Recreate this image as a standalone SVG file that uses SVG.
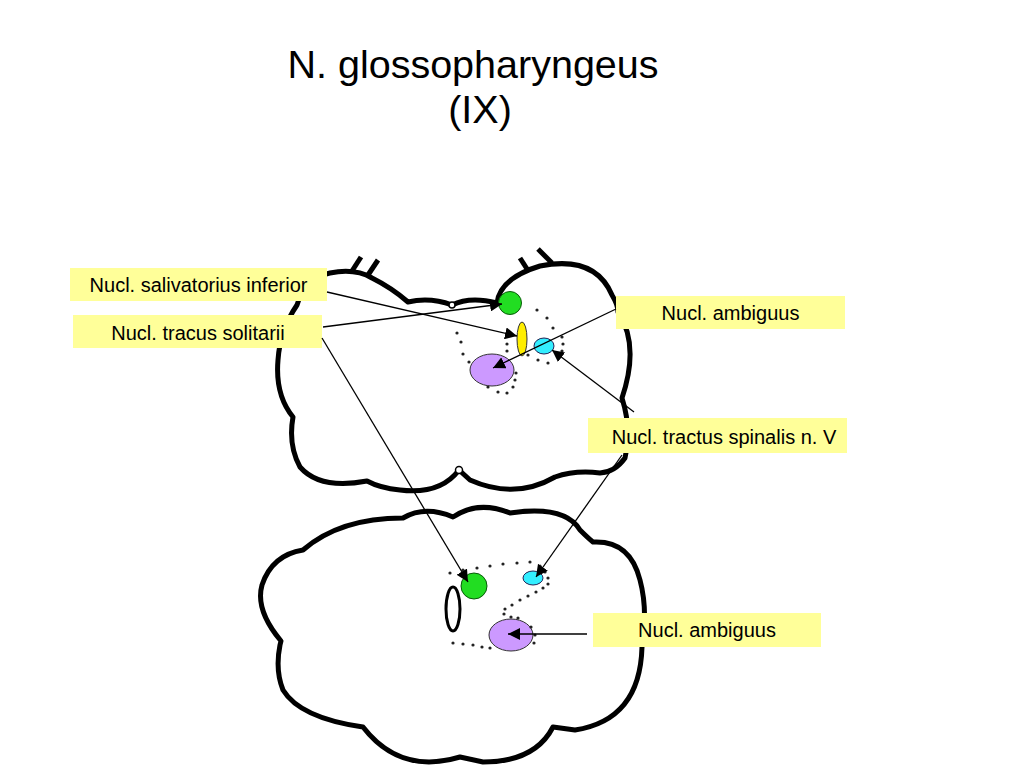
<svg xmlns="http://www.w3.org/2000/svg" width="1024" height="768" viewBox="0 0 1024 768">
<defs>
<style>
.outline{fill:#fff;stroke:#000;stroke-width:5;stroke-linejoin:round;stroke-linecap:round}
.tick{fill:none;stroke:#000;stroke-width:5;stroke-linecap:butt}
.conn{fill:none;stroke:#000;stroke-width:1.3}
.lbl{fill:#ffff99;stroke:none}
.lt{font-family:"Liberation Sans",Arial,sans-serif;font-size:20px;fill:#000;text-anchor:middle}
.title{font-family:"Liberation Sans",Arial,sans-serif;font-size:39.5px;fill:#000;text-anchor:middle}
.dot{fill:#222}
.hole{fill:#fff;stroke:#000;stroke-width:1.5}
</style>
<marker id="ah" markerUnits="userSpaceOnUse" markerWidth="14" markerHeight="12" refX="12" refY="6" orient="auto">
<path d="M0,0 L12,6 L0,12 Z" fill="#000"/>
</marker>
</defs>
<rect width="1024" height="768" fill="#fff"/>

<g id="title">
<text class="title" x="473" y="78">N. glossopharyngeus</text>
<text class="title" x="480" y="123">(IX)</text>
</g>

<g id="upper-section">
<path class="outline" d="M297,305 Q305,278 330,273 Q355,268 372,278 Q392,288 408,302 Q430,297 452,305 Q470,296 497,303 Q500,278 540,266 Q595,255 612,295 Q618,305 618,312 Q640,345 622,398 Q632,430 625,458 Q615,472 600,473 Q575,470 555,477 Q515,500 470,480 L459,470 Q440,495 400,490 Q380,488 367,481 Q320,490 300,467 Q288,445 293,417 Q275,395 278,360 Q280,330 297,305 Z"/>
<line class="tick" x1="361" y1="257" x2="352" y2="271"/>
<line class="tick" x1="378" y1="260" x2="368" y2="275"/>
<line class="tick" x1="520" y1="258" x2="529" y2="272"/>
<line class="tick" x1="538" y1="249" x2="552" y2="263"/>
<circle class="hole" cx="452" cy="305" r="3"/>
<circle class="hole" cx="459" cy="470" r="3.5"/>
</g>

<g id="lower-section">
<path class="outline" d="M303,550 Q340,518 403,518 Q425,505 453,517 Q478,500 510,513 Q565,505 580,530 Q588,538 593,542 Q630,540 640,580 Q648,610 642,647 Q640,720 575,730 L553,727 Q535,762 483,762 L460,757 Q400,775 363,727 Q300,718 283,690 Q275,670 280,645 L281,641 Q255,610 262,585 Q272,555 303,550 Z"/>
</g>

<g id="upper-nuclei">
<circle id="u-green" cx="510" cy="303" r="11.5" fill="#22dd22" stroke="#0a5a0a" stroke-width="1"/>
<ellipse id="u-yellow" cx="522" cy="339" rx="5" ry="17" fill="#ffee00" stroke="#333" stroke-width="1"/>
<ellipse id="u-cyan" cx="544" cy="346" rx="10" ry="8" fill="#33eeff" stroke="#225" stroke-width="1"/>
<ellipse id="u-purple" cx="492" cy="370" rx="22" ry="16" fill="#cc99ff" stroke="#333" stroke-width="1"/>
</g>

<g id="upper-dots">
<circle class="dot" cx="537" cy="310" r="1.6"/><circle class="dot" cx="547" cy="318" r="1.6"/>
<circle class="dot" cx="553" cy="328" r="1.6"/><circle class="dot" cx="562" cy="337" r="1.6"/>
<circle class="dot" cx="563" cy="344" r="1.6"/><circle class="dot" cx="562" cy="351" r="1.6"/>
<circle class="dot" cx="558" cy="356" r="1.6"/><circle class="dot" cx="548" cy="363" r="1.6"/>
<circle class="dot" cx="538" cy="360" r="1.6"/><circle class="dot" cx="457" cy="333" r="1.6"/>
<circle class="dot" cx="461" cy="342" r="1.6"/><circle class="dot" cx="463" cy="354" r="1.6"/>
<circle class="dot" cx="469" cy="362" r="1.6"/><circle class="dot" cx="507" cy="344" r="1.6"/>
<circle class="dot" cx="507" cy="351" r="1.6"/><circle class="dot" cx="528" cy="355" r="1.6"/>
<circle class="dot" cx="516" cy="373" r="1.6"/><circle class="dot" cx="515" cy="380" r="1.6"/>
<circle class="dot" cx="513" cy="387" r="1.6"/><circle class="dot" cx="507" cy="393" r="1.6"/>
<circle class="dot" cx="498" cy="392" r="1.6"/><circle class="dot" cx="488" cy="387" r="1.6"/>
</g>

<g id="lower-nuclei">
<circle id="l-green" cx="474" cy="586" r="13" fill="#22dd22" stroke="#0a5a0a" stroke-width="1"/>
<ellipse id="l-cyan" cx="533" cy="578" rx="10" ry="7" fill="#33eeff" stroke="#225" stroke-width="1"/>
<ellipse id="l-open" cx="453" cy="609" rx="7" ry="22" fill="#fff" stroke="#000" stroke-width="3"/>
<ellipse id="l-purple" cx="511" cy="635" rx="22" ry="16" fill="#cc99ff" stroke="#333" stroke-width="1"/>
</g>

<g id="lower-dots">
<circle class="dot" cx="450" cy="573" r="1.6"/><circle class="dot" cx="463" cy="570" r="1.6"/>
<circle class="dot" cx="477" cy="568" r="1.6"/><circle class="dot" cx="490" cy="566" r="1.6"/>
<circle class="dot" cx="503" cy="564" r="1.6"/><circle class="dot" cx="517" cy="563" r="1.6"/>
<circle class="dot" cx="530" cy="562" r="1.6"/><circle class="dot" cx="540" cy="566" r="1.6"/>
<circle class="dot" cx="545" cy="572" r="1.6"/><circle class="dot" cx="548" cy="578" r="1.6"/>
<circle class="dot" cx="548" cy="584" r="1.6"/><circle class="dot" cx="543" cy="588" r="1.6"/>
<circle class="dot" cx="536" cy="592" r="1.6"/><circle class="dot" cx="528" cy="596" r="1.6"/>
<circle class="dot" cx="520" cy="600" r="1.6"/><circle class="dot" cx="512" cy="605" r="1.6"/>
<circle class="dot" cx="505" cy="609" r="1.6"/><circle class="dot" cx="504" cy="614" r="1.6"/>
<circle class="dot" cx="511" cy="617" r="1.6"/><circle class="dot" cx="518" cy="618" r="1.6"/>
<circle class="dot" cx="531" cy="627" r="1.6"/><circle class="dot" cx="535" cy="635" r="1.6"/>
<circle class="dot" cx="534" cy="643" r="1.6"/><circle class="dot" cx="453" cy="643" r="1.6"/>
<circle class="dot" cx="463" cy="644" r="1.6"/><circle class="dot" cx="473" cy="645" r="1.6"/>
<circle class="dot" cx="482" cy="647" r="1.6"/><circle class="dot" cx="490" cy="648" r="1.6"/>
</g>

<g id="label-salivatorius">
<rect class="lbl" x="70" y="268" width="257" height="33"/>
<text class="lt" x="198.5" y="292">Nucl. salivatorius inferior</text>
</g>
<g id="label-solitarii">
<rect class="lbl" x="73" y="315" width="249" height="33"/>
<text class="lt" x="198" y="340">Nucl. tracus solitarii</text>
</g>
<g id="label-ambiguus-top">
<rect class="lbl" x="616" y="296" width="229" height="33"/>
<text class="lt" x="730.5" y="320">Nucl. ambiguus</text>
</g>
<g id="label-spinalis">
<rect class="lbl" x="588" y="418" width="259" height="35"/>
<text class="lt" x="724" y="444">Nucl. tractus spinalis n. V</text>
</g>
<g id="label-ambiguus-bottom">
<rect class="lbl" x="593" y="613" width="228" height="34"/>
<text class="lt" x="707" y="637">Nucl. ambiguus</text>
</g>

<g id="connectors">
<line class="conn" x1="327" y1="292" x2="517" y2="336" marker-end="url(#ah)"/>
<line class="conn" x1="323" y1="327" x2="502" y2="304" marker-end="url(#ah)"/>
<line class="conn" x1="322" y1="338" x2="468" y2="582" marker-end="url(#ah)"/>
<line class="conn" x1="616" y1="309" x2="493" y2="368" marker-end="url(#ah)"/>
<line class="conn" x1="634" y1="412" x2="552" y2="350" marker-end="url(#ah)"/>
<line class="conn" x1="622" y1="455" x2="536" y2="577" marker-end="url(#ah)"/>
<line class="conn" x1="587" y1="634" x2="508" y2="634" marker-end="url(#ah)"/>
</g>
</svg>
